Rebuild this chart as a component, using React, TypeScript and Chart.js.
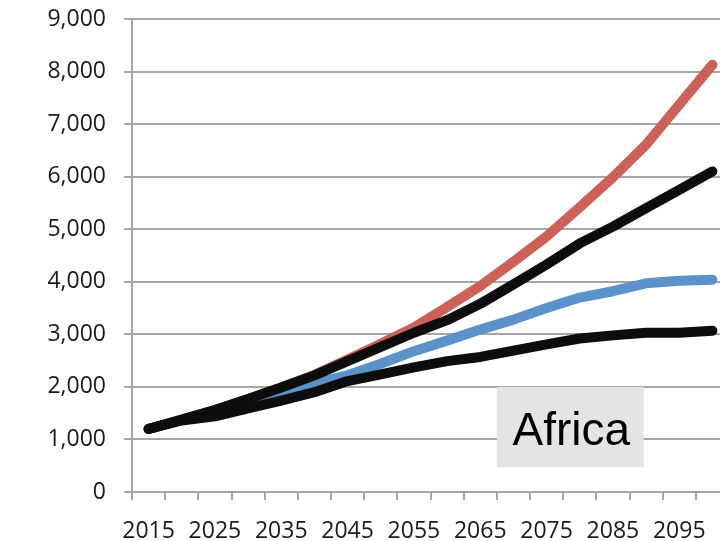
import { useEffect, useRef } from 'react';
import { Chart, registerables } from 'chart.js';

Chart.register(...registerables);

const years = ['2015', '2020', '2025', '2030', '2035', '2040', '2045', '2050', '2055', '2060', '2065', '2070', '2075', '2080', '2085', '2090', '2095', '2100'];
const yTicks = [0, 1000, 2000, 3000, 4000, 5000, 6000, 7000, 8000, 9000];

const redSeries = [1200, 1380, 1560, 1770, 1990, 2230, 2520, 2820, 3130, 3520, 3920, 4380, 4860, 5420, 5990, 6610, 7370, 8130];
const upperBlackSeries = [1200, 1380, 1560, 1770, 1990, 2220, 2490, 2760, 3030, 3270, 3580, 3950, 4330, 4730, 5050, 5400, 5750, 6100];
const blueSeries = [1200, 1370, 1550, 1750, 1930, 2070, 2220, 2440, 2680, 2880, 3090, 3280, 3500, 3700, 3820, 3970, 4020, 4040];
const lowerBlackSeries = [1200, 1360, 1440, 1590, 1740, 1900, 2110, 2240, 2370, 2490, 2570, 2690, 2810, 2920, 2980, 3030, 3030, 3070];

const regionLabel = 'Africa';

const GRID = '#a6a6a6';
const TEXT = '#1a1a1a';
const TICK_FONT = { family: '"Open Sans", sans-serif', size: 23 };

export default function App() {
  const ref = useRef<HTMLCanvasElement | null>(null);

  useEffect(() => {
    if (!ref.current) return;
    const labelBox = {
      id: 'labelBox',
      afterDraw(chart: any) {
        const { ctx, scales } = chart;
        const x = scales.x;
        const y = scales.y;
        const left = x.getPixelForValue(10.5);
        const right = x.getPixelForValue(14.93);
        const top = y.getPixelForValue(2000);
        const bottom = y.getPixelForValue(470);
        ctx.save();
        ctx.fillStyle = '#e4e4e2';
        ctx.fillRect(left, top, right - left, bottom - top);
        ctx.fillStyle = '#000';
        ctx.font = '46px "Liberation Sans", Arial, sans-serif';
        ctx.textAlign = 'center';
        ctx.textBaseline = 'alphabetic';
        ctx.fillText(regionLabel, (left + right) / 2 + 1, y.getPixelForValue(890));
        ctx.restore();
      },
    };

    const line = (data: number[], color: string, order: number) => ({
      data,
      borderColor: color,
      backgroundColor: color,
      borderWidth: 10,
      pointRadius: 0,
      tension: 0,
      fill: false,
      borderCapStyle: 'round' as const,
      borderJoinStyle: 'round' as const,
      order,
    });

    const chart = new Chart(ref.current, {
      type: 'line',
      data: {
        labels: years,
        datasets: [
          line(redSeries, '#cd6158', 4),
          line(blueSeries, '#5b92c9', 3),
          line(upperBlackSeries, '#0d0d0d', 2),
          line(lowerBlackSeries, '#0d0d0d', 1),
        ],
      },
      options: {
        responsive: false,
        animation: false,
        layout: { padding: { top: 19, right: 12, bottom: 18, left: 0 } },
        plugins: { legend: { display: false }, tooltip: { enabled: false } },
        scales: {
          x: {
            offset: true,
            grid: { offset: true, drawOnChartArea: false, drawTicks: true, tickLength: 8, color: GRID, lineWidth: 2 },
            border: { color: GRID, width: 2 },
            ticks: {
              autoSkip: false,
              maxRotation: 0,
              minRotation: 0,
              padding: 18,
              color: TEXT,
              font: TICK_FONT,
              callback: (_v: any, i: number) => (i % 2 === 0 ? years[i] : ''),
            },
            afterFit: (s: any) => {
              s.height = 50;
              s.paddingLeft = 0;
              s.paddingRight = 0;
            },
          },
          y: {
            min: yTicks[0],
            max: yTicks[yTicks.length - 1],
            afterBuildTicks: (s: any) => {
              s.ticks = yTicks.map((v) => ({ value: v }));
            },
            grid: { color: GRID, lineWidth: 2, tickLength: 8, drawTicks: true },
            border: { color: GRID, width: 2 },
            ticks: {
              padding: 18,
              color: TEXT,
              font: TICK_FONT,
              callback: (v: any) => Number(v).toLocaleString('en-US'),
            },
            afterFit: (s: any) => {
              s.width = 132;
              s.paddingTop = 0;
              s.paddingBottom = 0;
            },
          },
        },
      },
      plugins: [labelBox],
    });
    return () => chart.destroy();
  }, []);

  return (
    <div style={{ position: 'fixed', left: 0, top: 0, width: 720, height: 541, overflow: 'hidden', background: '#ffffff' }}>
      <canvas ref={ref} width={741} height={560} style={{ display: 'block', width: 741, height: 560 }} />
    </div>
  );
}
